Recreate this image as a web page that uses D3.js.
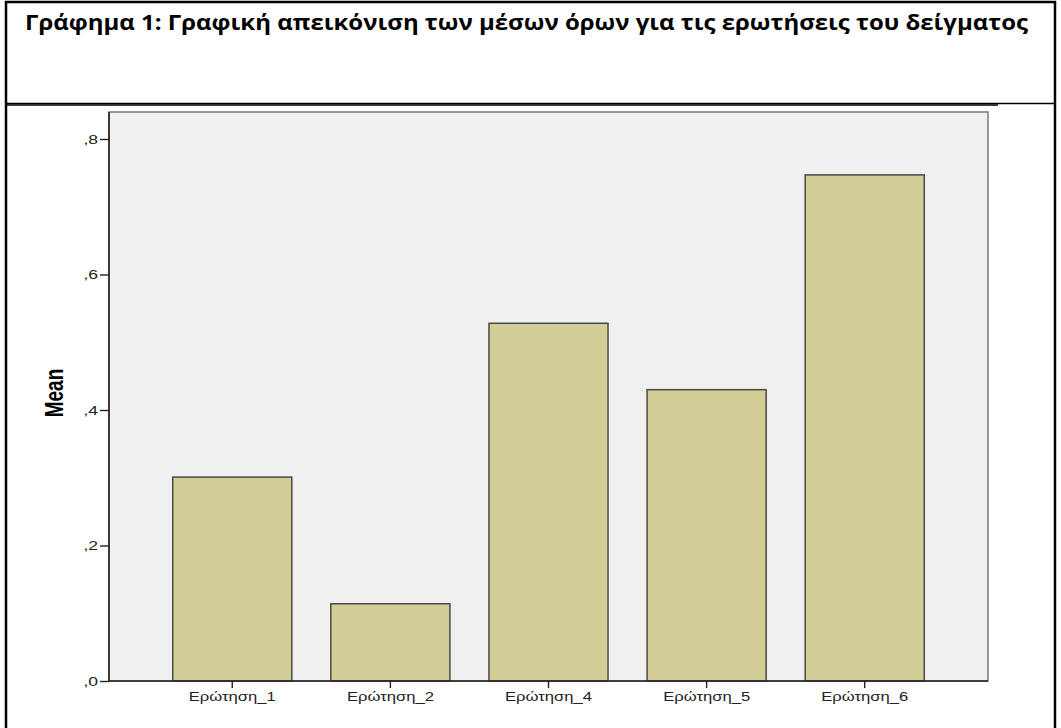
<!DOCTYPE html>
<html><head><meta charset="utf-8">
<script src="https://cdn.jsdelivr.net/npm/d3@7"></script>
<style>body{margin:0;background:#fff}svg{display:block}</style>
</head><body>
<svg id="c" width="1061" height="728"></svg>
<script>
const titleText = "Γράφημα 1: Γραφική απεικόνιση των μέσων όρων για τις ερωτήσεις του δείγματος";
const categories = ["Ερώτηση_1","Ερώτηση_2","Ερώτηση_4","Ερώτηση_5","Ερώτηση_6"];
const means = [0.301, 0.114, 0.528, 0.430, 0.747];
const yTicks = [0, 0.2, 0.4, 0.6, 0.8];
const yTickLabels = [",0", ",2", ",4", ",6", ",8"];
const yLabel = "Mean";

const SX = 1.35; // horizontal stretch of the original chart image
const svg = d3.select("#c");
// outer frame
svg.append("rect").attr("x",6).attr("y",2).attr("width",1049).attr("height",740)
  .attr("fill","none").attr("stroke","#000").attr("stroke-width",2.5);
svg.append("line").attr("x1",6).attr("x2",1055).attr("y1",103.5).attr("y2",103.5)
  .attr("stroke","#000").attr("stroke-width",1.3);
svg.append("line").attr("x1",6).attr("x2",998).attr("y1",105).attr("y2",105)
  .attr("stroke","#000").attr("stroke-width",1.3);

svg.append("text").attr("x",25).attr("y",30)
  .attr("font-family","'Open Sans', 'Noto Sans', sans-serif").attr("font-weight","bold")
  .attr("font-size",21).attr("textLength",1003).attr("lengthAdjust","spacingAndGlyphs")
  .attr("fill","#000").text(titleText);

const L=109, R=988, T=112, B=681;
const x = d3.scaleBand().domain(categories).range([L,R]).paddingInner(0.247).paddingOuter(0.403);
const y = d3.scaleLinear().domain([0, 0.84]).range([B, B - 0.84*677.5]);

svg.append("rect").attr("x",L).attr("y",T).attr("width",R-L).attr("height",B-T)
  .attr("fill","#f0f0f0").attr("stroke","#7a7a7a").attr("stroke-width",1.5);

svg.selectAll("rect.bar").data(means).join("rect").attr("class","bar")
  .attr("x",(d,i)=>x(categories[i])).attr("width",x.bandwidth())
  .attr("y",d=>y(d)).attr("height",d=>B-y(d))
  .attr("fill","#d3ce98").attr("stroke","#4a4a44").attr("stroke-width",1.5);

const yAxis = d3.axisLeft(y).tickValues(yTicks).tickFormat((d,i)=>yTickLabels[i]).tickSize(9).tickPadding(3);
const gy = svg.append("g").attr("transform",`translate(${L},0)`).call(yAxis);
const xAxis = d3.axisBottom(x).tickSize(7).tickPadding(4);
const gx = svg.append("g").attr("transform",`translate(0,${B})`).call(xAxis);
[gy,gx].forEach(g=>{
  g.select(".domain").attr("stroke","#222").attr("stroke-width",1.6);
  g.selectAll(".tick line").attr("stroke","#222").attr("stroke-width",1.4);
  g.selectAll(".tick text").attr("font-family","Arial, 'Liberation Sans', sans-serif")
   .attr("fill","#222").attr("transform",`scale(${SX},1)`);
});
gy.selectAll(".tick text").attr("font-size",13).attr("x",-11/SX);
gx.selectAll(".tick text").attr("font-size",12.3);
gy.select(".domain").attr("d",`M0,${T}V${B}`);
gx.select(".domain").attr("d",`M${L},0H${R}`);

svg.append("text").attr("transform",`translate(63,393) scale(${SX},1) rotate(-90)`)
  .attr("text-anchor","middle").attr("font-family","Arial, 'Liberation Sans', sans-serif")
  .attr("font-weight","bold").attr("font-size",19).attr("fill","#000").text(yLabel);
</script>
</body></html>
